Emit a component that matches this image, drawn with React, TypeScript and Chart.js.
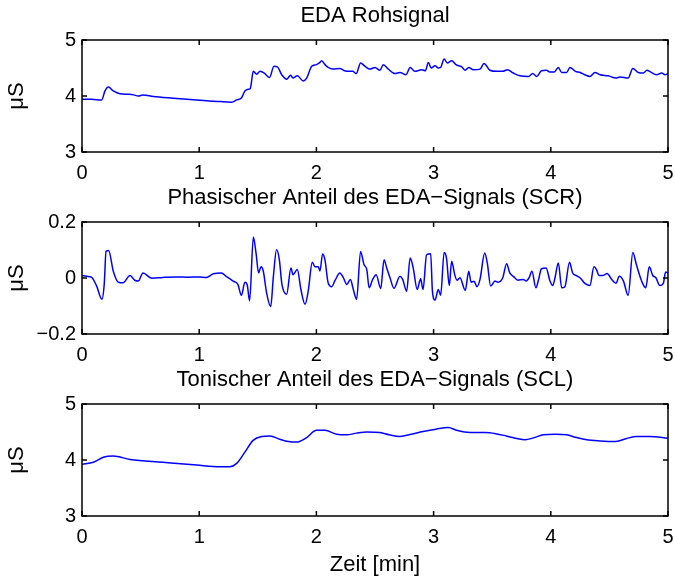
import { useEffect, useRef } from 'react';
import { Chart, registerables } from 'chart.js';

Chart.register(...registerables);

// ---- Data (time in minutes, values in µS) ----
const rawTime = [0, 0.08, 0.168, 0.196, 0.225, 0.267, 0.324, 0.404, 0.44, 0.48, 0.52, 0.608, 0.78, 0.978, 1.18, 1.277, 1.32, 1.362, 1.39, 1.42, 1.435, 1.462, 1.49, 1.519, 1.56, 1.6, 1.638, 1.667, 1.704, 1.746, 1.78, 1.8, 1.837, 1.888, 1.917, 1.96, 2.0, 2.025, 2.045, 2.073, 2.1, 2.14, 2.2, 2.24, 2.286, 2.31, 2.34, 2.377, 2.415, 2.457, 2.5, 2.542, 2.571, 2.614, 2.67, 2.713, 2.765, 2.8, 2.84, 2.878, 2.9, 2.93, 2.955, 2.98, 3.012, 3.04, 3.06, 3.09, 3.117, 3.154, 3.19, 3.24, 3.27, 3.3, 3.34, 3.396, 3.43, 3.48, 3.54, 3.59, 3.63, 3.68, 3.737, 3.81, 3.846, 3.88, 3.92, 3.964, 3.99, 4.03, 4.064, 4.093, 4.135, 4.163, 4.21, 4.25, 4.29, 4.334, 4.377, 4.42, 4.49, 4.556, 4.59, 4.66, 4.7, 4.746, 4.79, 4.82, 4.85, 4.903, 4.946, 4.975, 5.0];
const rawValues = [3.94, 3.94, 3.93, 4.09, 4.16, 4.09, 4.04, 4.03, 4.02, 4.0, 4.02, 3.99, 3.96, 3.93, 3.9, 3.89, 3.93, 3.97, 4.09, 4.12, 4.13, 4.44, 4.39, 4.44, 4.4, 4.33, 4.53, 4.52, 4.38, 4.3, 4.37, 4.32, 4.36, 4.27, 4.32, 4.53, 4.56, 4.59, 4.63, 4.56, 4.51, 4.48, 4.49, 4.45, 4.44, 4.44, 4.4, 4.59, 4.53, 4.48, 4.51, 4.46, 4.56, 4.48, 4.4, 4.42, 4.38, 4.51, 4.44, 4.46, 4.47, 4.45, 4.6, 4.5, 4.54, 4.5, 4.51, 4.66, 4.59, 4.63, 4.56, 4.52, 4.46, 4.51, 4.47, 4.48, 4.58, 4.46, 4.44, 4.44, 4.47, 4.41, 4.36, 4.35, 4.4, 4.35, 4.45, 4.46, 4.43, 4.43, 4.51, 4.42, 4.42, 4.51, 4.44, 4.42, 4.38, 4.35, 4.42, 4.38, 4.36, 4.32, 4.34, 4.32, 4.49, 4.42, 4.41, 4.46, 4.43, 4.38, 4.41, 4.38, 4.4];

const scrTime = [0, 0.04, 0.08, 0.125, 0.17, 0.19, 0.205, 0.227, 0.267, 0.31, 0.35, 0.41, 0.45, 0.48, 0.52, 0.595, 0.69, 0.8, 0.9, 1.0, 1.06, 1.12, 1.19, 1.23, 1.29, 1.33, 1.36, 1.39, 1.41, 1.43, 1.462, 1.485, 1.507, 1.527, 1.547, 1.575, 1.61, 1.633, 1.66, 1.684, 1.706, 1.746, 1.783, 1.8, 1.837, 1.868, 1.903, 1.93, 1.965, 1.988, 2.016, 2.03, 2.053, 2.073, 2.1, 2.13, 2.16, 2.2, 2.23, 2.26, 2.29, 2.315, 2.343, 2.377, 2.406, 2.43, 2.45, 2.48, 2.51, 2.549, 2.577, 2.6, 2.628, 2.662, 2.713, 2.736, 2.77, 2.8, 2.826, 2.86, 2.889, 2.91, 2.94, 2.975, 2.99, 3.012, 3.04, 3.06, 3.09, 3.11, 3.134, 3.154, 3.18, 3.2, 3.225, 3.27, 3.3, 3.32, 3.345, 3.37, 3.396, 3.436, 3.458, 3.487, 3.524, 3.55, 3.59, 3.623, 3.65, 3.68, 3.72, 3.765, 3.79, 3.815, 3.839, 3.873, 3.896, 3.92, 3.96, 3.993, 4.016, 4.036, 4.064, 4.093, 4.12, 4.16, 4.186, 4.215, 4.249, 4.291, 4.334, 4.368, 4.39, 4.41, 4.447, 4.48, 4.52, 4.556, 4.585, 4.62, 4.66, 4.7, 4.73, 4.775, 4.81, 4.84, 4.87, 4.897, 4.93, 4.96, 4.98, 5.0];
const scrValues = [0.009, 0.006, 0.003, -0.029, -0.076, -0.02, 0.095, 0.098, 0.024, -0.015, -0.017, 0.009, -0.008, -0.011, 0.018, -0.001, 0.002, 0.004, 0.003, 0.004, 0.002, 0.015, 0.018, 0.006, -0.011, -0.023, -0.062, -0.015, -0.025, -0.082, 0.146, 0.089, 0.018, 0.04, 0.024, -0.053, -0.102, 0.006, 0.101, 0.065, -0.023, -0.058, 0.036, 0.012, 0.03, -0.041, -0.094, -0.047, 0.056, 0.04, 0.04, 0.025, 0.086, 0.065, -0.017, -0.031, -0.008, 0.018, 0.001, -0.023, -0.005, -0.041, -0.076, 0.095, 0.048, 0.03, -0.035, -0.005, 0.012, -0.038, 0.065, 0.036, 0.001, -0.037, 0.006, -0.005, -0.047, 0.071, 0.036, -0.041, -0.003, -0.041, 0.083, 0.087, -0.047, -0.079, -0.041, -0.062, 0.091, 0.071, -0.027, 0.06, 0.012, -0.008, 0.001, -0.044, 0.024, -0.015, -0.012, -0.031, -0.005, 0.089, 0.054, -0.029, -0.011, -0.015, 0.001, 0.051, 0.018, 0.006, -0.008, -0.005, -0.011, 0.001, 0.024, -0.035, -0.005, 0.033, 0.036, -0.011, -0.027, 0.001, 0.054, -0.035, -0.031, 0.056, 0.018, 0.009, 0.001, -0.019, -0.027, 0.04, 0.03, 0.009, 0.009, 0.016, -0.005, -0.019, 0.006, -0.011, -0.062, 0.091, 0.048, -0.011, -0.035, 0.04, 0.009, 0.001, -0.027, -0.019, 0.021, 0.018];

const sclTime = [0, 0.097, 0.182, 0.267, 0.41, 0.69, 0.978, 1.177, 1.262, 1.32, 1.39, 1.46, 1.533, 1.604, 1.689, 1.76, 1.83, 1.917, 2.0, 2.073, 2.173, 2.258, 2.343, 2.43, 2.542, 2.62, 2.713, 2.81, 2.91, 3.02, 3.125, 3.196, 3.31, 3.44, 3.53, 3.62, 3.7, 3.78, 3.86, 3.937, 4.04, 4.135, 4.22, 4.306, 4.42, 4.547, 4.64, 4.73, 4.846, 5.0];
const sclValues = [3.92, 3.96, 4.05, 4.07, 4.01, 3.96, 3.91, 3.88, 3.88, 3.94, 4.14, 4.35, 4.42, 4.43, 4.37, 4.33, 4.32, 4.4, 4.53, 4.53, 4.46, 4.45, 4.48, 4.5, 4.49, 4.45, 4.42, 4.46, 4.51, 4.55, 4.58, 4.53, 4.49, 4.49, 4.47, 4.43, 4.39, 4.36, 4.4, 4.45, 4.46, 4.45, 4.4, 4.36, 4.34, 4.33, 4.38, 4.42, 4.42, 4.39];

const xTicks = [0, 1, 2, 3, 4, 5];

const FONT = '"Liberation Sans", Arial, Helvetica, sans-serif';
const TICK_SIZE = 20;
const LABEL_SIZE = 22;

const boxPlugin = {
  id: 'matlabBox',
  afterDatasetsDraw(chart: any) {
    const { ctx, chartArea } = chart;
    const { left, right, top, bottom } = chartArea;
    const x = chart.scales.x;
    const y = chart.scales.y;
    const L = 5;
    ctx.save();
    ctx.strokeStyle = '#000';
    ctx.lineWidth = 1.5;
    ctx.strokeRect(left, top, right - left, bottom - top);
    ctx.beginPath();
    x.ticks.forEach((tk: any) => {
      const px = x.getPixelForValue(tk.value);
      ctx.moveTo(px, bottom);
      ctx.lineTo(px, bottom - L);
      ctx.moveTo(px, top);
      ctx.lineTo(px, top + L);
    });
    y.ticks.forEach((tk: any) => {
      const py = y.getPixelForValue(tk.value);
      ctx.moveTo(left, py);
      ctx.lineTo(left + L, py);
      ctx.moveTo(right, py);
      ctx.lineTo(right - L, py);
    });
    ctx.stroke();
    ctx.restore();
  },
};

function fmt(v: number) {
  if (Math.abs(v) < 1e-9) return '0';
  const s = String(parseFloat(Math.abs(v).toFixed(3)));
  return (v < 0 ? '\u2212' : '') + s;
}

type PanelProps = {
  title: string;
  times: number[];
  values: number[];
  yMin: number;
  yMax: number;
  yStep: number;
  top: number;
  height: number;
  xTitle?: string;
};

function Panel({ title, times, values, yMin, yMax, yStep, top, height, xTitle }: PanelProps) {
  const ref = useRef<HTMLCanvasElement | null>(null);
  useEffect(() => {
    if (!ref.current) return;
    const data = times.map((t, i) => ({ x: t, y: values[i] }));
    const chart = new Chart(ref.current, {
      type: 'line',
      data: {
        datasets: [
          {
            data,
            borderColor: '#0000ff',
            borderWidth: 1.5,
            pointRadius: 0,
            cubicInterpolationMode: 'monotone',
            fill: false,
          },
        ],
      },
      options: {
        responsive: false,
        animation: false,
        devicePixelRatio: 1,
        layout: { padding: { left: 0, right: 7, top: 0, bottom: 0 } },
        plugins: {
          legend: { display: false },
          tooltip: { enabled: false },
          title: {
            display: true,
            fullSize: false,
            text: title,
            color: '#000',
            font: { family: FONT, size: LABEL_SIZE, weight: 'normal' },
            padding: { top: 3, bottom: 10.6 },
          },
        },
        scales: {
          x: {
            type: 'linear',
            min: 0,
            max: 5,
            afterBuildTicks: (s: any) => {
              s.ticks = xTicks.map((v) => ({ value: v }));
            },
            afterFit: (s: any) => {
              s.height = height - 152;
              s.paddingLeft = 0;
              s.paddingRight = 0;
            },
            grid: { display: false, drawTicks: false },
            border: { display: false },
            ticks: {
              color: '#000',
              font: { family: FONT, size: TICK_SIZE },
              padding: 9,
              maxRotation: 0,
              callback: (v: any) => fmt(Number(v)),
            },
            title: xTitle
              ? {
                  display: true,
                  text: xTitle,
                  color: '#000',
                  font: { family: FONT, size: LABEL_SIZE },
                  padding: { top: 0, bottom: 0 },
                }
              : { display: false },
          },
          y: {
            type: 'linear',
            min: yMin,
            max: yMax,
            ticks: {
              stepSize: yStep,
              color: '#000',
              font: { family: FONT, size: TICK_SIZE },
              padding: 6,
              callback: (v: any) => fmt(Number(v)),
            },
            afterFit: (s: any) => {
              s.width = 82;
              s.paddingTop = 0;
              s.paddingBottom = 0;
            },
            grid: { display: false, drawTicks: false },
            border: { display: false },
            title: {
              display: true,
              text: 'μS',
              color: '#000',
              font: { family: FONT, size: LABEL_SIZE },
              padding: { top: 3.5, bottom: 0 },
            },
          },
        },
      },
      plugins: [boxPlugin],
    } as any);
    return () => chart.destroy();
  }, []);
  return (
    <canvas
      ref={ref}
      width={675}
      height={height}
      style={{ position: 'absolute', left: 0, top, width: 675, height }}
    />
  );
}

export default function App() {
  return (
    <div style={{ position: 'absolute', left: 0, top: 0, width: 675, height: 578, background: '#fff' }}>
      <Panel title="EDA Rohsignal" times={rawTime} values={rawValues} yMin={3} yMax={5} yStep={1} top={0} height={182} />
      <Panel
        title="Phasischer Anteil des EDA−Signals (SCR)"
        times={scrTime}
        values={scrValues}
        yMin={-0.2}
        yMax={0.2}
        yStep={0.2}
        top={182}
        height={182}
      />
      <Panel
        title="Tonischer Anteil des EDA−Signals (SCL)"
        times={sclTime}
        values={sclValues}
        yMin={3}
        yMax={5}
        yStep={1}
        top={364}
        height={214}
        xTitle="Zeit [min]"
      />
    </div>
  );
}
